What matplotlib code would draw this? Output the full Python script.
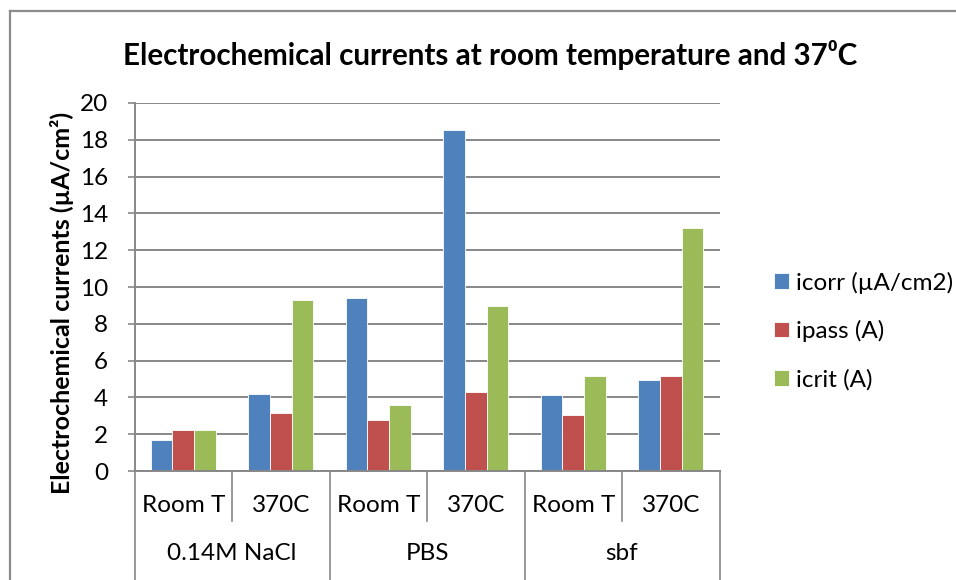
import matplotlib
matplotlib.use("Agg")
import matplotlib.pyplot as plt
from matplotlib.lines import Line2D
import matplotlib.transforms as mtransforms
import numpy as np

plt.rcParams['font.family'] = ['Lato', 'DejaVu Sans']

groups = ["0.14M NaCl", "PBS", "sbf"]
subcats = ["Room T", "370C", "Room T", "370C", "Room T", "370C"]
series_names = ["icorr (\u00b5A/cm2)", "ipass (A)", "icrit (A)"]
icorr = [1.7, 4.2, 9.4, 18.55, 4.13, 4.97]
ipass = [2.22, 3.13, 2.78, 4.27, 3.04, 5.16]
icrit = [2.24, 9.27, 3.58, 8.95, 5.15, 13.18]
colors = ["#4F81BD", "#C0504D", "#9BBB59"]
yticks = [0, 2, 4, 6, 8, 10, 12, 14, 16, 18, 20]

W, H = 956, 580
fig = plt.figure(figsize=(W / 100, H / 100), dpi=100)

def fx(px):
    return px / W

def fy(py):
    return 1 - py / H

FS = 17.5
L, R, T, B = 134.5, 719.5, 103, 471
ax = fig.add_axes([fx(L), fy(B), fx(R - L), (B - T) / H])

n = len(subcats)
x = np.arange(n) + 0.5
bw = 1 / 4.5
for k, (vals, c, name) in enumerate(zip([icorr, ipass, icrit], colors, series_names)):
    ax.bar(x + (k - 1) * bw, vals, width=bw, color=c, edgecolor="white",
           linewidth=0.6, label=name, zorder=3)

ax.set_xlim(0, n)
ax.set_ylim(0, 20)
ax.set_yticks(yticks)
ax.set_xticks([])
ax.grid(axis="y", color="#878787", linewidth=1.4, zorder=0)
for s in ["top", "right", "bottom"]:
    ax.spines[s].set_visible(False)
ax.spines["left"].set_color("#878787")
ax.spines["left"].set_linewidth(1.4)
ax.tick_params(axis="y", direction="out", length=5, width=1.2, color="#878787",
               labelsize=FS, pad=14, labelcolor="black")

trans = mtransforms.blended_transform_factory(ax.transData, ax.transAxes)
ax.plot([0, n], [0, 0], color="#878787", lw=1.4, transform=trans, clip_on=False, zorder=4)
sub_depth = -(521 - B) / (B - T)
grp_depth = -(580 - B) / (B - T)
for i in range(n + 1):
    d = grp_depth if i % 2 == 0 else sub_depth
    ax.plot([i, i], [0, d], color="#878787", lw=1.2, transform=trans, clip_on=False)

for xi, lab in zip(x, subcats):
    ax.text(xi, -(506 - B) / (B - T), lab, transform=trans, ha="center", va="center",
            fontsize=FS)
for g, lab in enumerate(groups):
    ax.text(2 * g + 1, -(553 - B) / (B - T), lab, transform=trans, ha="center",
            va="center", fontsize=FS)

fig.text(fx(62), fy(303), "Electrochemical currents (\u00b5A/cm\u00b2)", rotation=90,
         ha="center", va="center", fontsize=18, fontweight="bold")

fig.text(fx(490), fy(55), "Electrochemical currents at room temperature and 37\u2070C",
         ha="center", va="center", fontsize=21.3, fontweight="bold")

leg = ax.legend(loc="center left", bbox_to_anchor=(fx(762), fy(331)),
                bbox_transform=fig.transFigure, frameon=False, fontsize=FS,
                handlelength=0.6, handleheight=0.6, handletextpad=0.3,
                labelspacing=1.1, borderpad=0)

fig.add_artist(Line2D([fx(10), fx(10)], [fy(11), 0], color="#8c8c8c", lw=1.6))
fig.add_artist(Line2D([fx(10), 1], [fy(11), fy(11)], color="#8c8c8c", lw=1.6))

fig.savefig("out.png", dpi=100)
